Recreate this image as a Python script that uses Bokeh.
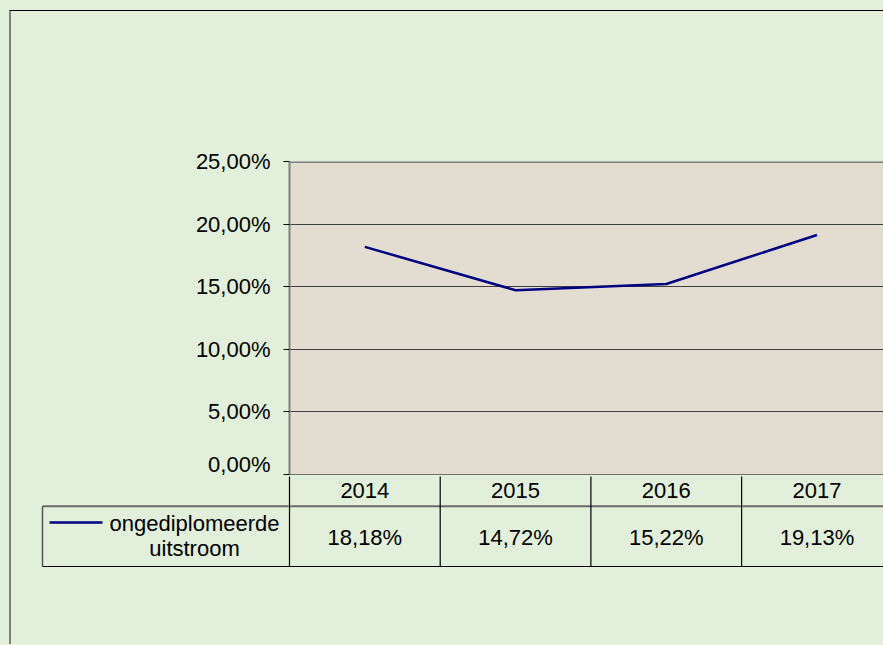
from bokeh.plotting import figure
from bokeh.layouts import column
from bokeh.models import Range1d, FixedTicker, CustomJSTickFormatter, Span
from bokeh.core.properties import value
from bokeh.embed import file_html
from bokeh.resources import INLINE

# ---- data ----
years = ["2014", "2015", "2016", "2017"]
values = [18.18, 14.72, 15.22, 19.13]
yticks = [0, 5, 10, 15, 20, 25]
series_name = "ongediplomeerde uitstroom"

# ---- style ----
GREEN = "#E2EFDA"
BEIGE = "#E3DCD1"
NAVY = "#000080"
FONT = "Liberation Sans"
FS = "22px"

ORG_X, ORG_Y = 11, 11   # page position of the figures' top-left corner
W = 872                  # figure width
LEFT = 289 - ORG_X       # frame left offset inside figure
COLW = 150.7             # pixels per category column
x_end = (W - LEFT) / COLW
x_start = -LEFT / COLW
xs = [i + 0.5 for i in range(len(years))]

# ---- top: the chart ----
top = figure(width=W, height=465, x_range=Range1d(0, x_end), y_range=Range1d(0, 25),
             output_backend="svg", toolbar_location=None, x_axis_location=None,
             min_border_left=LEFT, min_border_right=0, min_border_top=161 - ORG_Y,
             min_border_bottom=2, frame_align=False)
top.background_fill_color = BEIGE
top.border_fill_color = GREEN
top.outline_line_color = None
top.xgrid.visible = False
top.ygrid.ticker = FixedTicker(ticks=[t for t in yticks if 0 < t < 25])
top.ygrid.grid_line_color = "#404040"
top.ygrid.grid_line_width = 1

ax = top.yaxis[0]
ax.ticker = FixedTicker(ticks=yticks)
ax.formatter = CustomJSTickFormatter(code="return tick.toFixed(2).replace('.', ',') + '%';")
ax.axis_line_color = "#808080"
ax.axis_line_width = 2
ax.major_tick_line_color = "black"
ax.major_tick_out = 6
ax.major_tick_in = 0
ax.minor_tick_line_color = None
ax.major_label_text_font = FONT
ax.major_label_text_font_size = FS
ax.major_label_text_color = "black"
ax.major_label_standoff = 13

top.add_layout(Span(location=yticks[-1], dimension="width", line_color="#808080", line_width=3))
top.add_layout(Span(location=yticks[0], dimension="width", line_color="black", line_width=1))

top.line(xs, values, line_color=NAVY, line_width=2.5)

# ---- bottom: data table ----
H2 = 168
bot = figure(width=W, height=H2, x_range=Range1d(x_start, x_end), y_range=Range1d(H2, 0),
             output_backend="svg", toolbar_location=None, x_axis_location=None, y_axis_location=None,
             min_border_left=0, min_border_right=0, min_border_top=0, min_border_bottom=0,
             frame_align=False)
bot.background_fill_color = GREEN
bot.border_fill_color = GREEN
bot.outline_line_color = None
bot.grid.visible = False

HDR = 29.7      # header row bottom
TBL = 90        # table bottom
LEG_X = (42 - 289) / COLW

n = len(years)
bot.segment(x0=[LEG_X], y0=[HDR], x1=[x_end], y1=[HDR], line_color="#6a6a6a", line_width=2)
bot.segment(x0=[LEG_X], y0=[TBL], x1=[x_end], y1=[TBL], line_color="black", line_width=1.2)
bot.segment(x0=list(range(n)), y0=[-2] * n, x1=list(range(n)), y1=[TBL] * n,
            line_color="black", line_width=1.2)
bot.segment(x0=[LEG_X], y0=[HDR], x1=[LEG_X], y1=[TBL], line_color="#555555", line_width=1.5)

bot.text(x=xs, y=[14] * n, text=years, text_font=value(FONT), text_font_size=FS,
         text_align="center", text_baseline="middle", text_color="black")
labels = [f"{v:.2f}".replace(".", ",") + "%" for v in values]
bot.text(x=xs, y=[61] * n, text=labels, text_font=value(FONT), text_font_size=FS,
         text_align="center", text_baseline="middle", text_color="black")

# legend key
bot.segment(x0=[(49 - 289) / COLW], y0=[46], x1=[(102 - 289) / COLW], y1=[46],
            line_color=NAVY, line_width=2.5)
name_lines = series_name.split(" ")
bot.text(x=[(194 - 289) / COLW] * len(name_lines), y=[47 + 25 * i for i in range(len(name_lines))],
         text=name_lines, text_font=value(FONT), text_font_size=FS,
         text_align="center", text_baseline="middle", text_color="black")

layout = column(top, bot, styles={
    "margin-left": "9px", "margin-top": "10px",
    "border-left": "2px solid #808080", "border-top": "1px solid #000000",
    "background-color": GREEN,
    "box-shadow": "0 0 0 12px " + GREEN,
})

open("out.html", "w").write(file_html(layout, INLINE))
